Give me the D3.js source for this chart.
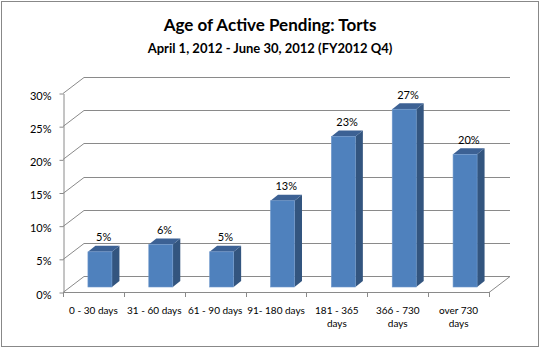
<!DOCTYPE html>
<html>
<head>
<meta charset="utf-8">
<script src="https://cdn.jsdelivr.net/npm/d3@7/dist/d3.min.js"></script>
<style>
  html, body { margin: 0; padding: 0; background: #fff; }
  svg { display: block; font-family: Lato, "Open Sans", sans-serif; }
</style>
</head>
<body>
<svg id="chart" width="541" height="349"></svg>
<script>
// Age buckets of active pending tort cases and the share in each
const categories = ["0 - 30 days", "31 - 60 days", "61 - 90 days", "91- 180 days",
                    "181 - 365 days", "366 - 730 days", "over 730 days"];
const categoryLines = [["0 - 30 days"], ["31 - 60 days"], ["61 - 90 days"], ["91- 180 days"],
                       ["181 - 365", "days"], ["366 - 730", "days"], ["over 730", "days"]];
const shares = [0.053, 0.064, 0.053, 0.13, 0.227, 0.268, 0.20];
const yTicks = [0, 0.05, 0.10, 0.15, 0.20, 0.25, 0.30];

const titleText = "Age of Active Pending: Torts";
const subtitleText = "April 1, 2012 - June 30, 2012 (FY2012 Q4)";

const svg = d3.select("#chart");
const W = 541, H = 349;

// plot frame (front plane of the 3-D box)
const plotLeft = 63, plotRight = 489, plotBottom = 292, plotTop = 93;
const wallDx = 21, wallDy = -16;     // depth of the walls
const barDx = 6.5, barDy = -5;       // bars sit a little behind the front plane
const barW = 24, depthX = 7.5, depthY = -6;

const x = d3.scaleBand().domain(categories).range([plotLeft, plotRight]).padding(0);
const y = d3.scaleLinear().domain([0, 0.30]).range([plotBottom, plotTop]);
const pct = d3.format(".0%");

// outer border
svg.append("rect").attr("x", 1.5).attr("y", 1.5).attr("width", W - 4).attr("height", H - 4)
  .attr("fill", "#fff").attr("stroke", "#888").attr("stroke-width", 1);

// titles
svg.append("text").attr("x", 270).attr("y", 31).attr("text-anchor", "middle")
  .attr("font-size", 17).attr("font-weight", "bold").attr("fill", "#000").text(titleText);
svg.append("text").attr("x", 270).attr("y", 53).attr("text-anchor", "middle")
  .attr("font-size", 13).attr("font-weight", "bold").attr("fill", "#000").text(subtitleText);

const gridColor = "#8a8a8a";
const grid = svg.append("g").attr("stroke", gridColor).attr("stroke-width", 1).attr("fill", "none");

// side-wall diagonals and back-wall gridlines
yTicks.forEach(t => {
  const yy = Math.round(y(t)) + 0.5;
  grid.append("line").attr("x1", plotLeft).attr("y1", yy)
    .attr("x2", plotLeft + wallDx).attr("y2", yy + wallDy);
  grid.append("line").attr("x1", plotLeft + wallDx).attr("y1", yy + wallDy)
    .attr("x2", plotRight + wallDx).attr("y2", yy + wallDy);
});
// floor: front edge and right diagonal
grid.append("line").attr("x1", plotLeft).attr("y1", plotBottom + 0.5).attr("x2", plotRight).attr("y2", plotBottom + 0.5);
grid.append("line").attr("x1", plotRight).attr("y1", plotBottom + 0.5)
  .attr("x2", plotRight + wallDx).attr("y2", plotBottom + 0.5 + wallDy);

// value axis
const yAxis = svg.append("g").attr("transform", `translate(${plotLeft + 0.5},0.5)`)
  .call(d3.axisLeft(y).tickValues(yTicks).tickFormat(pct).tickSize(4).tickSizeOuter(0).tickPadding(8));
yAxis.select(".domain").attr("stroke", gridColor);
yAxis.selectAll(".tick line").attr("stroke", gridColor);
yAxis.selectAll(".tick text").attr("font-size", 11).attr("fill", "#000").attr("dy", "0.5em")
  .attr("font-family", "Lato, sans-serif");

// category axis: tick marks at bucket boundaries
const bounds = categories.map(c => x(c)).concat([plotRight]);
svg.append("g").selectAll("line").data(bounds).join("line")
  .attr("x1", d => Math.round(d) + 0.5).attr("x2", d => Math.round(d) + 0.5)
  .attr("y1", plotBottom).attr("y2", plotBottom + 5)
  .attr("stroke", gridColor);

const catLabels = svg.append("g").attr("font-size", 10).attr("fill", "#000").attr("text-anchor", "middle");
categories.forEach((c, i) => {
  const t = catLabels.append("text").attr("x", x(c) + x.bandwidth() / 2).attr("y", 314);
  categoryLines[i].forEach((ln, j) => {
    t.append("tspan").attr("x", x(c) + x.bandwidth() / 2).attr("dy", j === 0 ? 0 : 13).text(ln);
  });
});

// 3-D bars
const bars = svg.append("g");
categories.forEach((c, i) => {
  const v = shares[i];
  const x0 = x(c) + (x.bandwidth() - barW) / 2 + barDx;
  const x1 = x0 + barW;
  const yTop = y(v) + barDy;
  const yBot = y(0) + barDy;
  const g = bars.append("g");
  // side face
  g.append("polygon")
    .attr("points", [[x1, yTop], [x1 + depthX, yTop + depthY], [x1 + depthX, yBot + depthY], [x1, yBot]].join(" "))
    .attr("fill", "#33557f");
  // top face
  g.append("polygon")
    .attr("points", [[x0, yTop], [x0 + depthX, yTop + depthY], [x1 + depthX, yTop + depthY], [x1, yTop]].join(" "))
    .attr("fill", "#3c6194");
  // front face
  g.append("rect").attr("x", x0).attr("y", yTop).attr("width", barW).attr("height", yBot - yTop)
    .attr("fill", "#4f81bd").attr("stroke", "#6f98cc").attr("stroke-width", 0.6);
  // value label
  g.append("text").attr("x", x0 + (barW + depthX) / 2).attr("y", yTop + depthY - 4.5)
    .attr("text-anchor", "middle").attr("font-size", 11).attr("fill", "#000").text(pct(v));
});
</script>
</body>
</html>
